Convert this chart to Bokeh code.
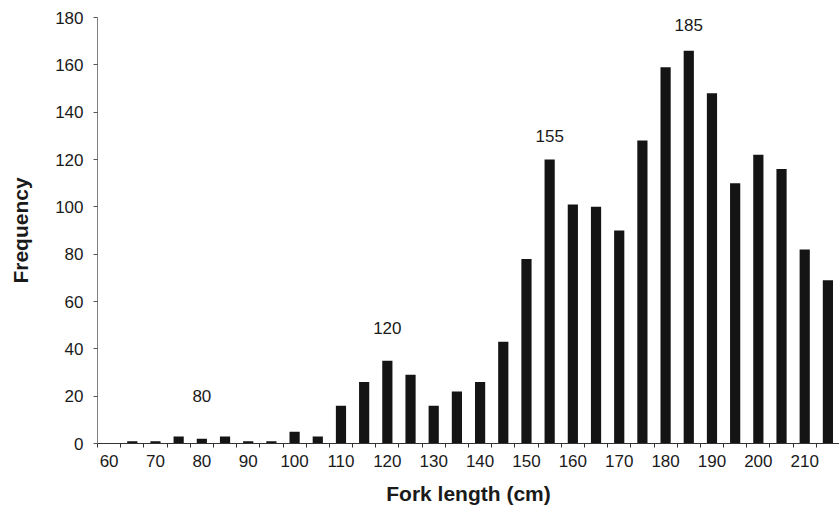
from bokeh.plotting import figure
from bokeh.models import Range1d, FixedTicker, ColumnDataSource
from bokeh.core.properties import value
from bokeh.embed import file_html
from bokeh.resources import INLINE

# ---- data ----
fork_length = [60, 65, 70, 75, 80, 85, 90, 95, 100, 105, 110, 115, 120, 125, 130, 135,
               140, 145, 150, 155, 160, 165, 170, 175, 180, 185, 190, 195, 200, 205, 210, 215]
frequency = [0, 1, 1, 3, 2, 3, 1, 1, 5, 3, 16, 26, 35, 29, 16, 22,
             26, 43, 78, 120, 101, 100, 90, 128, 159, 166, 148, 110, 122, 116, 82, 69]
x_tick_values = [60, 70, 80, 90, 100, 110, 120, 130, 140, 150, 160, 170, 180, 190, 200, 210]
y_tick_values = [0, 20, 40, 60, 80, 100, 120, 140, 160, 180]
mode_labels = ["80", "120", "155", "185"]
mode_x = [80, 120, 155, 185]
mode_label_y = [20, 49, 130, 177]

FONT = "Liberation Sans"
bin_w = 5
boundaries = [fork_length[0] - bin_w / 2 + i * bin_w for i in range(len(fork_length) + 1)]

p = figure(width=839, height=507, output_backend="svg", toolbar_location=None,
           x_range=Range1d(boundaries[0], boundaries[-1]), y_range=Range1d(0, 180),
           min_border_left=97, min_border_right=0, min_border_top=17, min_border_bottom=64)
p.outline_line_color = None
p.xgrid.visible = False
p.ygrid.visible = False

src = ColumnDataSource(dict(x=fork_length, top=frequency))
p.vbar(x="x", top="top", width=2.2, bottom=0, source=src,
       fill_color="#141414", line_color=None)

lab = ColumnDataSource(dict(x=mode_x, y=mode_label_y, t=mode_labels))
p.text(x="x", y="y", text="t", source=lab, text_align="center", text_baseline="middle",
       text_font=value(FONT), text_font_size="17px", text_color="#1a1a1a")

# x axis
xa = p.xaxis[0]
xa.ticker = FixedTicker(ticks=x_tick_values, minor_ticks=boundaries)
xa.major_tick_out = 0
xa.major_tick_in = 0
xa.minor_tick_out = 4
xa.minor_tick_in = 0
xa.minor_tick_line_color = "#333333"
xa.axis_line_color = "#333333"
xa.major_label_text_font = FONT
xa.major_label_text_font_size = "17px"
xa.major_label_text_color = "#1a1a1a"
xa.major_label_standoff = 7
xa.axis_label = "Fork length (cm)"
xa.axis_label_text_font = FONT
xa.axis_label_text_font_style = "bold"
xa.axis_label_text_font_size = "21px"
xa.axis_label_text_color = "#1a1a1a"
xa.axis_label_standoff = 12

# y axis
ya = p.yaxis[0]
ya.ticker = FixedTicker(ticks=y_tick_values)
ya.minor_tick_out = 0
ya.minor_tick_in = 0
ya.major_tick_out = 4
ya.major_tick_in = 0
ya.major_tick_line_color = "#555555"
ya.axis_line_color = "#808080"
ya.major_label_text_font = FONT
ya.major_label_text_font_size = "17px"
ya.major_label_text_color = "#1a1a1a"
ya.major_label_standoff = 10
ya.axis_label = "Frequency"
ya.axis_label_text_font = FONT
ya.axis_label_text_font_style = "bold"
ya.axis_label_text_font_size = "21px"
ya.axis_label_text_color = "#1a1a1a"
ya.axis_label_standoff = 20

open("out.html", "w").write(file_html(p, INLINE))
